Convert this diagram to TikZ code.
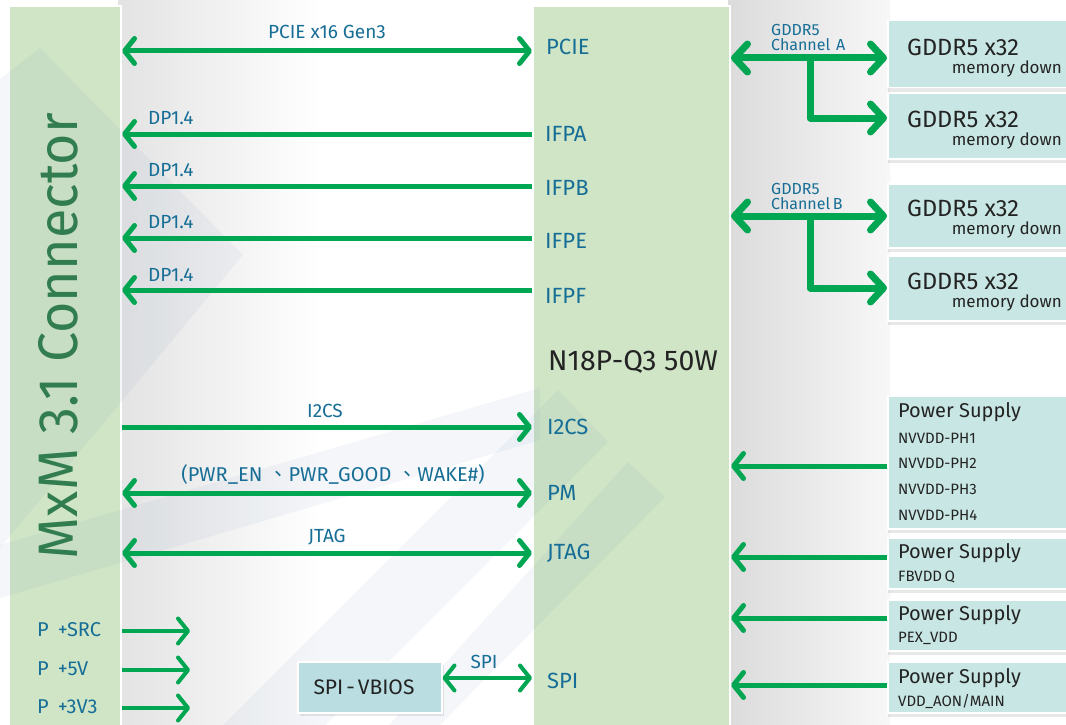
\documentclass[tikz,border=0pt]{standalone}
\usepackage{fontspec}
\setmainfont{Fira Sans}
\newfontfamily\cjk{Noto Sans CJK TC}
\usetikzlibrary{arrows.meta,shadows,calc}
\definecolor{agreen}{RGB}{0,166,81}
\definecolor{lblue}{RGB}{22,110,150}
\definecolor{colg}{RGB}{207,229,198}
\definecolor{memc}{RGB}{200,230,227}
\definecolor{spic}{RGB}{185,221,224}
\definecolor{cdark}{RGB}{50,125,80}
\definecolor{txtd}{RGB}{35,35,35}
\definecolor{wmc}{RGB}{110,140,190}
\newcommand{\myfs}[1]{\fontsize{#1}{#1}\selectfont}
\tikzset{
  gbarb/.tip={Straight Barb[length=10pt,width=25pt,round]},
  gbig/.tip={Straight Barb[length=13pt,width=28pt,round]},
  colbox/.style={fill=colg,draw=white,line width=2pt,inner sep=0pt},
  mem/.style={fill=memc,draw=white,line width=1.5pt,inner sep=0pt,
    drop shadow={opacity=0.18,shadow xshift=0pt,shadow yshift=-4pt}},
  spib/.style={fill=spic,draw=white,line width=1.5pt,inner sep=0pt,text=txtd,
    font=\myfs{21},drop shadow={opacity=0.18,shadow xshift=2pt,shadow yshift=-3pt}},
  arr/.style={draw=agreen,line width=5pt},
  bigarr/.style={draw=agreen,line width=7pt,line join=round},
  sarr/.style={draw=agreen,line width=4pt},
  lbl/.style={text=lblue,font=\myfs{19},inner sep=0pt},
  chl/.style={text=lblue,font=\myfs{22},inner sep=0pt,anchor=west},
  memt/.style={text=txtd,font=\myfs{23.5},inner sep=0pt},
  mems/.style={text=txtd,font=\myfs{17},inner sep=0pt},
  pst/.style={text=txtd,font=\myfs{20},inner sep=0pt,anchor=west},
  pss/.style={text=txtd,font=\myfs{15},inner sep=0pt,anchor=west},
  gch/.style={text=lblue,font=\myfs{16},inner sep=0pt,anchor=west},
  wm/.style={fill=wmc,fill opacity=0.075},
}
\begin{document}
\begin{tikzpicture}[x=1pt,y=-1pt]
\clip (0,0) rectangle (1066,725);
\fill[white] (0,0) rectangle (1066,725);
% background gradients
\fill[left color=black!11,right color=white] (118,0) rectangle (320,725);
\fill[left color=black!14,right color=black!3] (728,0) rectangle (890,725);
% columns
\node[colbox,minimum width=112pt,minimum height=740pt,anchor=north west] (conn) at (8,5) {};
\node[colbox,minimum width=197pt,minimum height=740pt,anchor=north west] (chip) at (532,5) {};
% watermark
\fill[wm] (0,79) -- (40,48) -- (243,255) -- (0,548) -- cycle;
\fill[wm] (0,545) -- (540,388) -- (540,440) -- (0,598) -- cycle;
\fill[wm] (558,390) -- (608,442) -- (300,750) -- (198,750) -- cycle;
\fill[wm] (628,462) -- (665,497) -- (430,735) -- (380,735) -- cycle;
% memory boxes
\node[mem,minimum width=200pt,minimum height=67pt,anchor=north west] (m1) at (887,20) {};
\node[mem,minimum width=200pt,minimum height=65pt,anchor=north west] (m2) at (887,93) {};
\node[mem,minimum width=200pt,minimum height=64pt,anchor=north west] (m3) at (887,183) {};
\node[mem,minimum width=200pt,minimum height=65pt,anchor=north west] (m4) at (887,255) {};
\foreach \m/\a/\b in {m1/27/49,m2/26/48,m3/25/47,m4/26/48}{
  \node[memt,anchor=west] (\m t) at ($(\m.north west)+(20,\a)$) {GDDR5 x32};
  \node[mems,anchor=east] (\m s) at ($(\m.north west)+(175,\b)$) {memory down};
}
% power boxes
\node[mem,minimum width=200pt,minimum height=133pt,anchor=north west] (p1) at (887,395) {};
\node[mem,minimum width=200pt,minimum height=51pt,anchor=north west] (p2) at (887,537) {};
\node[mem,minimum width=200pt,minimum height=51pt,anchor=north west] (p3) at (887,599) {};
\node[mem,minimum width=200pt,minimum height=51pt,anchor=north west] (p4) at (887,661) {};
\node[pst] (p1t) at (898,412) {Power Supply};
\node[pss] (p1a) at (898,438) {NVVDD-PH1};
\node[pss] (p1b) at (898,463) {NVVDD-PH2};
\node[pss] (p1c) at (898,489) {NVVDD-PH3};
\node[pss] (p1d) at (898,515) {NVVDD-PH4};
\node[pst] (p2t) at (898,553) {Power Supply};
\node[pss] (p2a) at (898,577) {FBVDD\,Q};
\node[pst] (p3t) at (898,615) {Power Supply};
\node[pss] (p3a) at (898,638) {PEX\_VDD};
\node[pst] (p4t) at (898,678) {Power Supply};
\node[pss] (p4a) at (898,702) {VDD\_AON/MAIN};
% SPI-VBIOS box
\node[spib,minimum width=144pt,minimum height=51pt,anchor=north west] (vb) at (297,661) {};
\node[text=txtd,font=\myfs{21},inner sep=0pt] (vbt) at (364,687) {SPI\kern3pt-\kern3pt VBIOS};
% connector title
\node[rotate=90,text=cdark,inner sep=0pt] (ct) at (58,336)
  {\resizebox{446pt}{39pt}{\myfs{50}MxM 3.1 Connector}};
% chip labels
\node[chl] (cPCIE) at (546,47) {PCIE};
\node[chl] (cIFPA) at (545,134) {IFPA};
\node[chl] (cIFPB) at (545,188) {IFPB};
\node[chl] (cIFPE) at (545,241) {IFPE};
\node[chl] (cIFPF) at (545,296) {IFPF};
\node[chl] (cI2CS) at (547,427) {I2CS};
\node[chl] (cPM) at (547,493) {PM};
\node[chl] (cJTAG) at (547,553) {JTAG};
\node[chl] (cSPI) at (547,681) {SPI};
\node[text=txtd,font=\myfs{28.5},inner sep=0pt,anchor=west] (cname) at (548,362) {N18P-Q3 50W};
% y levels
\coordinate (yPCIE) at (0,51);
\coordinate (yA) at (0,134);
\coordinate (yB) at (0,186);
\coordinate (yE) at (0,238);
\coordinate (yF) at (0,290);
\coordinate (yI) at (0,427);
\coordinate (yPM) at (0,493);
\coordinate (yJ) at (0,553);
\coordinate (ySPI) at (0,678);
% left arrows
\draw[arr,{gbarb}-{gbarb}] (conn.east |- yPCIE) -- (chip.west |- yPCIE);
\foreach \y in {yA,yB,yE,yF}{
  \draw[arr,{gbarb}-] (conn.east |- \y) -- (chip.west |- \y);
}
\draw[arr,-{gbarb}] (conn.east |- yI) -- (chip.west |- yI);
\draw[arr,{gbarb}-{gbarb}] (conn.east |- yPM) -- (chip.west |- yPM);
\draw[arr,{gbarb}-{gbarb}] (conn.east |- yJ) -- (chip.west |- yJ);
\draw[sarr,{gbarb}-{gbarb}] (vb.east |- ySPI) -- (chip.west |- ySPI);
% arrow labels
\node[lbl] (lPCIE) at (327,32) {PCIE x16 Gen3};
\node[lbl,anchor=west] (lA) at (148,118) {DP1.4};
\node[lbl,anchor=west] (lB) at (148,170) {DP1.4};
\node[lbl,anchor=west] (lE) at (148,222) {DP1.4};
\node[lbl,anchor=west] (lF) at (148,275) {DP1.4};
\node[lbl] (lI) at (325,411) {I2CS};
\node[lbl,font=\myfs{20}] (lPM) at (333,474) {(PWR\_EN\hspace{6pt}{\cjk 、}PWR\_GOOD\hspace{6pt}{\cjk 、}WAKE\#)};
\node[lbl] (lJ) at (327,537) {JTAG};
\node[lbl] (lSPI) at (484,662) {SPI};
% power input arrows
\coordinate (ps1) at (190,631);
\coordinate (ps2) at (190,670);
\coordinate (ps3) at (190,708);
\foreach \c in {ps1,ps2,ps3}{
  \draw[sarr,-{gbarb}] (conn.east |- \c) -- (\c);
}
\node[text=lblue,font=\myfs{20},inner sep=0pt,anchor=west] (lp1) at (37,630) {P\hspace{9pt}+SRC};
\node[text=lblue,font=\myfs{20},inner sep=0pt,anchor=west] (lp2) at (37,669) {P\hspace{9pt}+5V};
\node[text=lblue,font=\myfs{20},inner sep=0pt,anchor=west] (lp3) at (37,707) {P\hspace{9pt}+3V3};
% GDDR channels
\coordinate (yCA) at (0,58);
\coordinate (jA) at (810,58);
\coordinate (yA2) at (0,118);
\draw[bigarr,{gbig}-{gbig}] (chip.east |- yCA) -- (m1.west |- yCA);
\draw[bigarr,-{gbig}] (jA) |- (m2.west |- yA2);
\coordinate (yCB) at (0,216);
\coordinate (jB) at (810,216);
\coordinate (yB2) at (0,288);
\draw[bigarr,{gbig}-{gbig}] (chip.east |- yCB) -- (m3.west |- yCB);
\draw[bigarr,-{gbig}] (jB) |- (m4.west |- yB2);
\node[gch] (gA1) at (771,30) {GDDR5};
\node[gch] (gA2) at (771,45) {Channel\hspace{6pt}A};
\node[gch] (gB1) at (771,189) {GDDR5};
\node[gch] (gB2) at (771,204) {Channel\,B};
% power arrows
\coordinate (yp1) at (0,466);
\coordinate (yp2) at (0,557);
\coordinate (yp3) at (0,618);
\coordinate (yp4) at (0,685);
\foreach \p/\y in {p1/yp1,p2/yp2,p3/yp3,p4/yp4}{
  \draw[arr,{gbarb}-] (chip.east |- \y) -- (\p.west |- \y);
}
\end{tikzpicture}
\end{document}
